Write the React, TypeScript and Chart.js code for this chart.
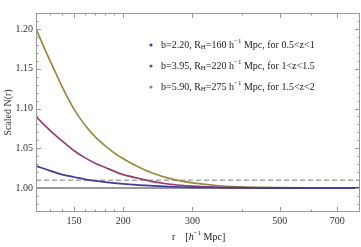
import React, { useEffect, useRef } from "react";
import { Chart, registerables } from "chart.js";

Chart.register(...registerables);

// ---- data ----
const radii = [120, 130, 140, 150, 160, 170, 180, 190, 200, 220, 240, 260, 280, 300, 350, 400, 450, 500, 600, 700, 800];
const nBlue = [1.028, 1.022, 1.017, 1.014, 1.011, 1.009, 1.0075, 1.0063, 1.0053, 1.0038, 1.0027, 1.002, 1.0014, 1.001, 1.0005, 1.0002, 1.0001, 1.0, 1.0, 1.0, 1.0];
const nMagenta = [1.09, 1.073, 1.059, 1.047, 1.038, 1.031, 1.026, 1.021, 1.017, 1.012, 1.0078, 1.0052, 1.0036, 1.0025, 1.001, 1.0005, 1.0002, 1.0001, 1.0, 1.0, 1.0];
const nOlive = [1.2, 1.161, 1.127, 1.099, 1.079, 1.064, 1.053, 1.044, 1.037, 1.026, 1.018, 1.0125, 1.009, 1.0065, 1.003, 1.0016, 1.0009, 1.0005, 1.0002, 1.0001, 1.0];

const legendB = ["2.20", "3.95", "5.90"];
const legendRH = ["160", "220", "275"];
const legendZ = ["0.5<z<1", "1<z<1.5", "1.5<z<2"];

const xMajorTicks = [150, 200, 300, 500, 700];
const xMinorTicks = [130, 140, 160, 170, 180, 190, 400, 600];
const yMajorTicks = [1.0, 1.05, 1.1, 1.15, 1.2];
const yMinorTicks = [0.98, 0.99, 1.01, 1.02, 1.03, 1.04, 1.06, 1.07, 1.08, 1.09, 1.11, 1.12, 1.13, 1.14, 1.16, 1.17, 1.18, 1.19, 1.21];

const unityLevel = 1.0;
const dashedLevel = 1.01;
const xMin = 120;
const xMax = 800;
const yMin = 0.97;
const yMax = 1.22;

const COLORS = ["rgb(62,61,153)", "rgb(153,61,116)", "rgb(153,138,61)"];
const SERIF = "'Liberation Serif', 'Times New Roman', serif";

function drawRich(ctx: CanvasRenderingContext2D, x: number, y: number, parts: { t: string; k?: string }[]) {
  let cx = x;
  for (const p of parts) {
    if (p.k === "sub") {
      ctx.font = `7px ${SERIF}`;
      ctx.fillText(p.t, cx, y + 2.5);
    } else if (p.k === "sup") {
      ctx.font = `7px ${SERIF}`;
      ctx.fillText(p.t, cx, y - 4);
    } else if (p.k === "it") {
      ctx.font = `italic 10px ${SERIF}`;
      ctx.fillText(p.t, cx, y);
    } else {
      ctx.font = `10px ${SERIF}`;
      ctx.fillText(p.t, cx, y);
    }
    cx += ctx.measureText(p.t).width;
  }
  return cx;
}

const framePlugin = {
  id: "frameTicks",
  afterDraw(chart: any) {
    const { ctx, chartArea } = chart;
    const { left, right, top, bottom } = chartArea;
    const xs = chart.scales.x;
    const ys = chart.scales.y;
    ctx.save();
    ctx.strokeStyle = "#9a9a9a";
    ctx.lineWidth = 1;
    ctx.strokeRect(left + 0.5, top + 0.5, right - left - 1, bottom - top - 1);
    ctx.beginPath();
    const xt = (v: number, len: number) => {
      const p = Math.round(xs.getPixelForValue(v)) + 0.5;
      ctx.moveTo(p, bottom);
      ctx.lineTo(p, bottom - len);
      ctx.moveTo(p, top);
      ctx.lineTo(p, top + len);
    };
    const yt = (v: number, len: number) => {
      const p = Math.round(ys.getPixelForValue(v)) + 0.5;
      ctx.moveTo(left, p);
      ctx.lineTo(left + len, p);
      ctx.moveTo(right, p);
      ctx.lineTo(right - len, p);
    };
    xMajorTicks.forEach((v) => xt(v, 5));
    xMinorTicks.forEach((v) => xt(v, 2.5));
    yMajorTicks.forEach((v) => yt(v, 5));
    yMinorTicks.forEach((v) => yt(v, 2.5));
    ctx.stroke();

    // legend
    ctx.textBaseline = "middle";
    ctx.fillStyle = "#222";
    const rows = [45, 66, 87];
    for (let i = 0; i < 3; i++) {
      ctx.fillStyle = COLORS[i];
      ctx.beginPath();
      ctx.arc(151, rows[i], 1.6, 0, Math.PI * 2);
      ctx.fill();
      ctx.fillStyle = "#222";
      drawRich(ctx, 161, rows[i], [
        { t: `b=${legendB[i]}, R` },
        { t: "H", k: "sub" },
        { t: `=${legendRH[i]} h` },
        { t: "\u22121", k: "sup" },
        { t: ` Mpc, for ${legendZ[i]}` },
      ]);
    }

    // x-axis title
    drawRich(ctx, 172, 237, [
      { t: "r    [" },
      { t: "h", k: "it" },
      { t: "\u22121", k: "sup" },
      { t: " Mpc]" },
    ]);
    ctx.restore();
  },
};

export default function App() {
  const ref = useRef<HTMLCanvasElement | null>(null);
  useEffect(() => {
    if (!ref.current) return;
    const pts = (arr: number[]) => radii.map((r, i) => ({ x: r, y: arr[i] }));
    const curve = (label: string, arr: number[], color: string) => ({
      label,
      data: pts(arr),
      borderColor: color,
      borderWidth: 1.7,
      pointRadius: 0,
      cubicInterpolationMode: "monotone",
      order: 1,
    });
    const chart = new Chart(ref.current, {
      type: "line",
      data: {
        datasets: [
          curve("b=2.20", nBlue, COLORS[0]),
          curve("b=3.95", nMagenta, COLORS[1]),
          curve("b=5.90", nOlive, COLORS[2]),
          {
            label: "unity",
            data: [
              { x: xMin, y: unityLevel },
              { x: xMax, y: unityLevel },
            ],
            borderColor: "#7a7a7a",
            borderWidth: 1.5,
            pointRadius: 0,
            order: 3,
          },
          {
            label: "dashed",
            data: [
              { x: xMin, y: dashedLevel },
              { x: xMax, y: dashedLevel },
            ],
            borderColor: "#a8a8a8",
            borderWidth: 1.5,
            borderDash: [5, 3],
            pointRadius: 0,
            order: 2,
          },
        ],
      } as any,
      options: {
        animation: false,
        responsive: false,
        devicePixelRatio: 1,
        layout: { padding: { top: 13, right: 1, left: 0, bottom: 0 } },
        plugins: { legend: { display: false }, tooltip: { enabled: false } },
        scales: {
          x: {
            type: "logarithmic",
            min: xMin,
            max: xMax,
            afterBuildTicks: (s: any) => {
              s.ticks = xMajorTicks.map((v) => ({ value: v }));
            },
            afterFit: (s: any) => {
              s.height = 35;
            },
            ticks: {
              autoSkip: false,
              maxRotation: 0,
              padding: 3,
              color: "#333",
              font: { family: SERIF, size: 10 },
              callback: (v: any) => String(v),
            },
            grid: { display: false, drawTicks: false },
            border: { display: false },
          },
          y: {
            type: "linear",
            min: yMin,
            max: yMax,
            afterBuildTicks: (s: any) => {
              s.ticks = yMajorTicks.map((v) => ({ value: v }));
            },
            afterFit: (s: any) => {
              s.width = 36;
            },
            ticks: {
              padding: 3,
              color: "#333",
              font: { family: SERIF, size: 10 },
              callback: (v: any) => Number(v).toFixed(2),
            },
            grid: { display: false, drawTicks: false },
            border: { display: false },
            title: {
              display: true,
              text: "Scaled N(r)",
              color: "#333",
              font: { family: SERIF, size: 10 },
              padding: { top: 2, bottom: 0 },
            },
          },
        },
      },
      plugins: [framePlugin],
    } as any);
    return () => chart.destroy();
  }, []);
  return (
    <div style={{ position: "fixed", left: 0, top: 0, width: 361, height: 247, background: "#fff" }}>
      <canvas ref={ref} width={361} height={247} style={{ display: "block" }} />
    </div>
  );
}
